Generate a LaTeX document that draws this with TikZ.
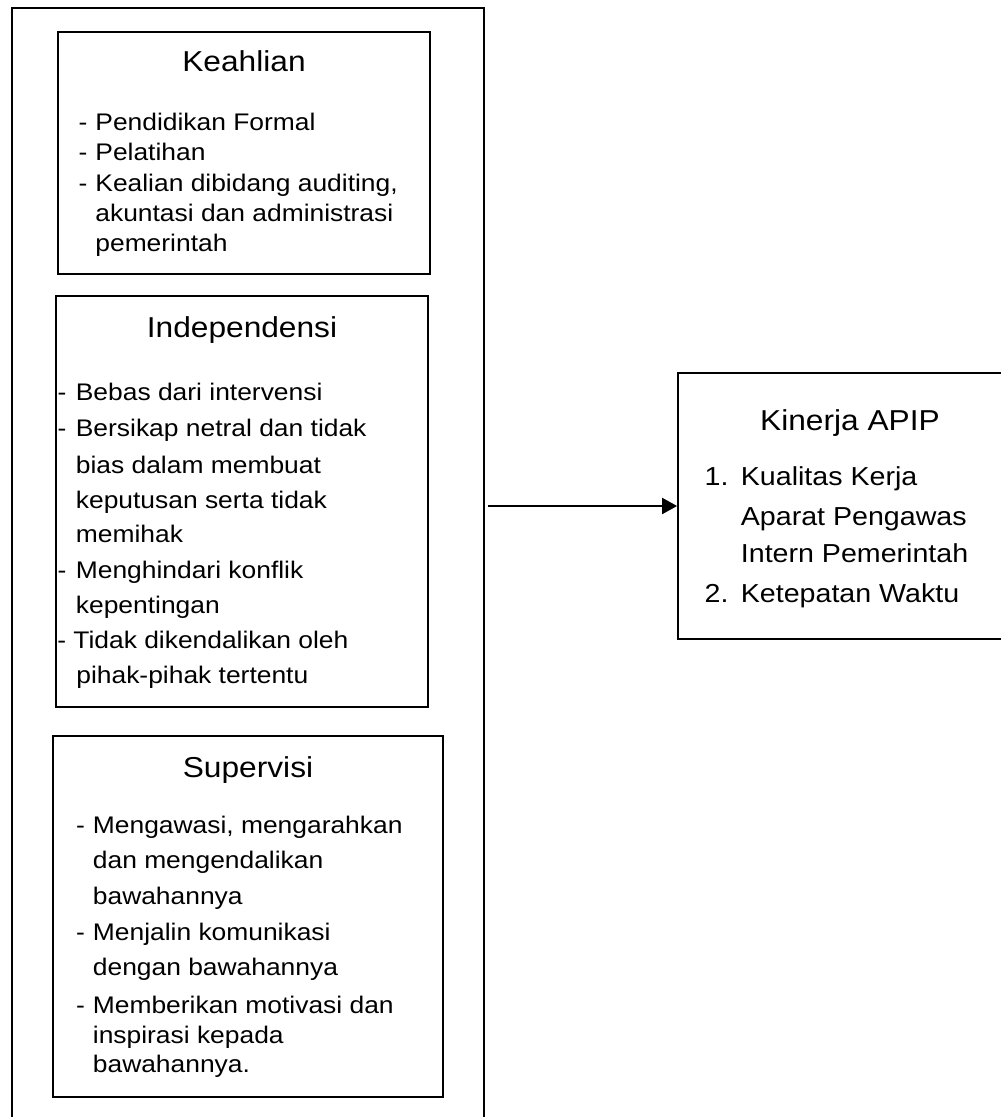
\documentclass[tikz,border=0pt]{standalone}
\usepackage{fontspec}
\setmainfont[FakeStretch=1.1]{Liberation Sans}
\usetikzlibrary{arrows.meta,positioning}

\newcommand\listdash[1][4pt]{\llap{-\hspace{#1}}}
\newcommand\listnum[1]{\llap{#1\hspace{6.2pt}}}

\begin{document}
\begin{tikzpicture}[x=0.5pt, y=-0.5pt, >=Triangle,
    panel/.style={draw, line width=0.9pt, inner sep=0pt},
    heading/.style={anchor=base, inner sep=0pt, font=\fontsize{14.4}{17}\selectfont},
    item/.style={anchor=base west, inner sep=0pt, font=\fontsize{12}{14}\selectfont}]
  \useasboundingbox (0,0) rectangle (1000,1117);

  % Outer frame round the three variables.
  \node[panel, minimum width=236pt, minimum height=561pt] (outer) at (248,569) {};

  % Keahlian.
  \node[panel, minimum width=186pt, minimum height=121pt] (keahlian) at (244,153) {};
  \node[heading] (keahlian-t) at (244,72) {Keahlian};
  \foreach \y/\t [count=\i] in {131/\listdash Pendidikan Formal, 161/\listdash Pelatihan,
      192/{\listdash Kealian dibidang auditing,}, 222/akuntasi dan administrasi, 252/pemerintah}{
    \node[item] (keahlian-\i) at (95,\y) {\t};
  }

  % Independensi.
  \node[panel, minimum width=186pt, minimum height=205.5pt] (indep) at (242,501.5) {};
  \node[heading] (indep-t) at (242,337) {Independensi};
  \foreach \y/\x/\t [count=\i] in {400/75.5/\listdash[4.8pt]Bebas dari intervensi,
      436/75.5/\listdash[4.8pt]Bersikap netral dan tidak, 473/75.5/bias dalam membuat,
      508/75.5/keputusan serta tidak, 542/75.5/memihak,
      578/75.5/\listdash[4.8pt]Menghindari konflik, 613/75.5/kepentingan,
      648/73/\listdash[3.6pt]Tidak dikendalikan oleh, 683/76/pihak-pihak tertentu}{
    \node[item] (indep-\i) at (\x,\y) {\t};
  }

  % Supervisi.
  \node[panel, minimum width=195pt, minimum height=180.5pt] (superv) at (248,916.5) {};
  \node[heading] (superv-t) at (248,777) {Supervisi};
  \foreach \y/\t [count=\i] in {833/{\listdash Mengawasi, mengarahkan}, 868/dan mengendalikan,
      904/bawahannya, 940/\listdash Menjalin komunikasi, 975/dengan bawahannya,
      1013/\listdash Memberikan motivasi dan, 1043/inspirasi kepada, 1072/bawahannya.}{
    \node[item] (superv-\i) at (92.5,\y) {\t};
  }

  % Kinerja APIP.
  \node[panel, minimum width=172pt, minimum height=133pt] (kinerja) at (850,506) {};
  \node[heading] (kinerja-t) at (850,430) {Kinerja APIP};
  \foreach \y/\t [count=\i] in {485/\listnum{1.}Kualitas Kerja, 525/Aparat Pengawas,
      562/Intern Pemerintah, 602/\listnum{2.}Ketepatan Waktu}{
    \node[item, font=\fontsize{13}{15}\selectfont] (kinerja-\i) at (740.5,\y) {\t};
  }

  \draw[->, line width=1pt, >={Triangle[length=7.5pt, width=8pt]}, shorten <=1.5pt]
    (outer.east |- kinerja.west) -- (kinerja.west);
\end{tikzpicture}
\end{document}
